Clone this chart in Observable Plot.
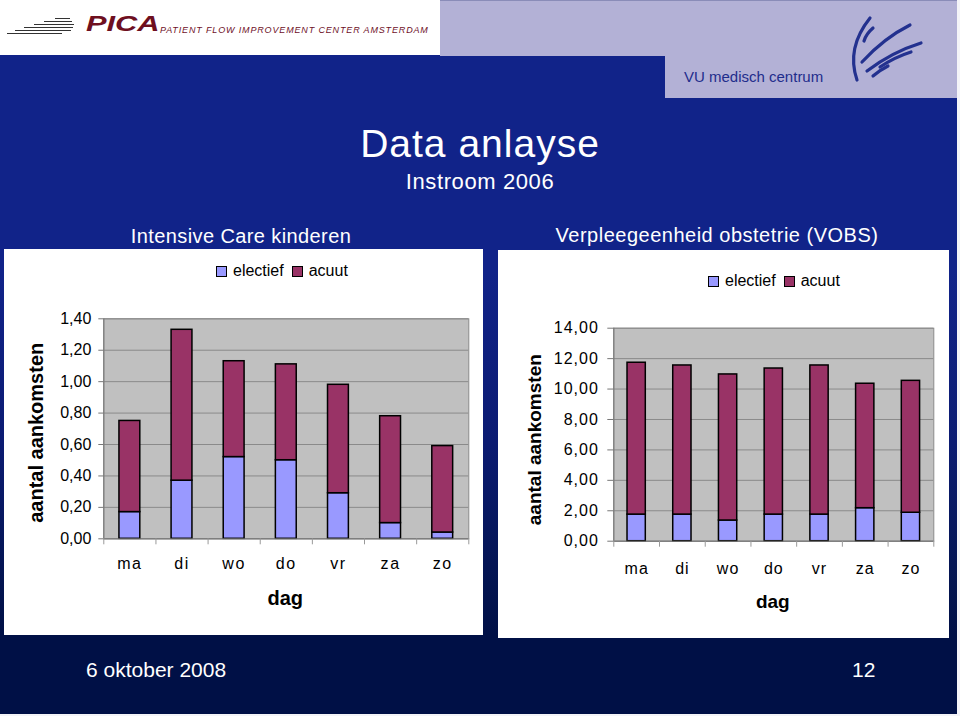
<!DOCTYPE html>
<html>
<head>
<meta charset="utf-8">
<script src="https://cdn.jsdelivr.net/npm/d3@7"></script>
<script src="https://cdn.jsdelivr.net/npm/@observablehq/plot@0.6"></script>
<style>
  html, body { margin: 0; padding: 0; background: #f4f4f8; }
  #slide { position: relative; width: 957px; height: 714px; overflow: hidden;
    font-family: "Liberation Sans", Arial, sans-serif;
    background: linear-gradient(to bottom, #112389 0%, #112389 38%, #0b1b72 62%, #031450 82%, #001046 89%, #001046 100%); }
  .abs { position: absolute; }
  .c { transform: translate(-50%, -50%); white-space: nowrap; line-height: 1; }
  .w { color: #fff; }
  .panel { background: #fff; }
  .leg { display: flex; align-items: center; font-size: 16px; color: #000; white-space: nowrap; }
  .sw { width: 9px; height: 9px; border: 1px solid #000; display: inline-block; margin-right: 6px; }
  #left g[aria-label="x-axis tick label"] text { letter-spacing: 1.6px; }
  #right g[aria-label="x-axis tick label"] text { letter-spacing: 1px; }
  #right g[aria-label="y-axis tick label"] text { letter-spacing: 1px; }
</style>
</head>
<body>
<div id="slide">
  <!-- header -->
  <div class="abs" style="left:0;top:0;width:440px;height:55px;background:#fff"></div>
  <div class="abs" style="left:440px;top:0;width:517px;height:55px;background:#b3b1d6;border-top:1px solid #8a8cb8"></div>
  <div class="abs" style="left:665px;top:55px;width:292px;height:43px;background:#b3b1d6"></div>
  <svg class="abs" style="left:0;top:0" width="957" height="100">
    <g stroke="#333" stroke-width="1">
      <line x1="55" y1="18.5" x2="70" y2="18.5"/>
      <line x1="44" y1="21.5" x2="72" y2="21.5"/>
      <line x1="34" y1="24.5" x2="74" y2="24.5"/>
      <line x1="24" y1="27.5" x2="73" y2="27.5"/>
      <line x1="15" y1="30.5" x2="71" y2="30.5"/>
      <line x1="7" y1="33.5" x2="62" y2="33.5"/>
    </g>
    <g fill="none" stroke="#23318f" stroke-width="3.2" stroke-linecap="round">
      <path d="M870,18 Q846,48 857,80"/>
      <path d="M873,28 Q866,34 864,41"/>
      <path d="M862,62 Q884,38 910,25"/>
      <path d="M867,71 Q892,52 921,43"/>
      <path d="M880,67 Q895,57 911,52"/>
      <path d="M873,76 Q880,70 888,66"/>
    </g>
  </svg>
  <div class="abs" style="left:86px;top:13px;font-size:22px;font-weight:bold;font-style:italic;color:#6e0f1f;transform:scaleX(1.4);transform-origin:left top;line-height:1">PICA</div>
  <div class="abs" style="left:160px;top:26px;font-size:9px;font-style:italic;color:#6e0f1f;letter-spacing:0.85px;line-height:1;white-space:nowrap">PATIENT FLOW IMPROVEMENT CENTER AMSTERDAM</div>
  <div class="abs" style="left:684px;top:69px;font-size:15px;color:#1f2d8c;line-height:1;white-space:nowrap">VU medisch centrum</div>

  <!-- titles -->
  <div class="abs c w" style="left:480px;top:143px;font-size:39px;letter-spacing:1px">Data anlayse</div>
  <div class="abs c w" style="left:480px;top:182px;font-size:22px;letter-spacing:0.6px">Instroom 2006</div>
  <div class="abs c w" style="left:241px;top:236px;font-size:20px;letter-spacing:0.4px">Intensive Care kinderen</div>
  <div class="abs c w" style="left:717px;top:235px;font-size:20px;letter-spacing:0.5px">Verpleegeenheid obstetrie (VOBS)</div>

  <!-- panels -->
  <div class="abs panel" style="left:4px;top:249px;width:479px;height:386px"></div>
  <div class="abs panel" style="left:498px;top:250px;width:451px;height:388px"></div>

  <div class="abs" id="left" style="left:4px;top:300px"></div>
  <div class="abs" id="right" style="left:499px;top:300px"></div>

  <div class="abs leg" id="legL" style="left:216px;top:262px"></div>
  <div class="abs leg" id="legR" style="left:708px;top:272px"></div>

  <!-- footer -->
  <div class="abs w" style="left:86px;top:659px;font-size:21px;line-height:1">6 oktober 2008</div>
  <div class="abs w" style="left:852px;top:659px;font-size:21px;line-height:1">12</div>
</div>

<script>
// ---- data ----
const days = ["ma", "di", "wo", "do", "vr", "za", "zo"];
const series = ["electief", "acuut"];
const seriesColors = ["#9999ff", "#993366"];

// Intensive Care kinderen
const icElectief = [0.17, 0.37, 0.52, 0.50, 0.29, 0.10, 0.04];
const icAcuut    = [0.58, 0.96, 0.61, 0.61, 0.69, 0.68, 0.55];
const icTicks    = [0, 0.2, 0.4, 0.6, 0.8, 1.0, 1.2, 1.4];

// Verpleegeenheid obstetrie (VOBS)
const vobsElectief = [1.75, 1.75, 1.36, 1.75, 1.75, 2.17, 1.87];
const vobsAcuut    = [9.98, 9.80, 9.60, 9.60, 9.80, 8.18, 8.67];
const vobsTicks    = [0, 2, 4, 6, 8, 10, 12, 14];

const yTitle = "aantal aankomsten";
const xTitle = "dag";

// ---- helpers ----
const fmt = v => v.toFixed(2).replace(".", ",");
const barFrac = 0.4;

function rowsFor(el, ac) {
  const rows = [];
  days.forEach((d, i) => {
    const x1 = i + (1 - barFrac) / 2, x2 = i + (1 + barFrac) / 2;
    rows.push({day: d, series: series[0], x1, x2, y1: 0, y2: el[i]});
    rows.push({day: d, series: series[1], x1, x2, y1: el[i], y2: el[i] + ac[i]});
  });
  return rows;
}

function chart(cfg) {
  const bounds = d3.range(days.length + 1);
  const centers = days.map((d, i) => i + 0.5);
  return Plot.plot({
    width: cfg.width, height: cfg.height,
    marginLeft: cfg.ml, marginRight: cfg.mr, marginTop: cfg.mt, marginBottom: cfg.mb,
    style: {fontFamily: '"Liberation Sans", Arial, sans-serif', fontSize: "16px", color: "#000", background: "transparent", overflow: "visible"},
    x: {type: "linear", domain: [0, days.length], axis: null},
    y: {domain: [cfg.ticks[0], cfg.ticks[cfg.ticks.length - 1]], axis: null},
    color: {domain: series, range: seriesColors},
    marks: [
      Plot.frame({fill: "#c0c0c0", stroke: "#8a8a8a"}),
      Plot.gridY(cfg.ticks, {stroke: "#8a8a8a", strokeOpacity: 1}),
      Plot.rectY(rowsFor(cfg.el, cfg.ac), {x1: "x1", x2: "x2", y1: "y1", y2: "y2", fill: "series", stroke: "#000", strokeWidth: 1.5}),
      Plot.ruleY([cfg.ticks[0]], {stroke: "#777"}),
      Plot.ruleX([0], {stroke: "#777"}),
      Plot.axisY(cfg.ticks, {tickFormat: fmt, tickSize: cfg.tickY, tickPadding: cfg.padY, stroke: "#777", fill: "#000", fontSize: 16}),
      Plot.axisX(bounds, {tickFormat: () => "", tickSize: 6, stroke: "#999"}),
      Plot.axisX(centers, {tickFormat: v => days[Math.round(v - 0.5)], tickSize: 0, tickPadding: cfg.padX, fill: "#000", fontSize: 16}),
      Plot.text([yTitle], {frameAnchor: "left", textAnchor: "middle", lineAnchor: "middle", rotate: -90, dx: cfg.ytDx, dy: cfg.ytDy, fontWeight: "bold", fontSize: cfg.ytSize, fill: "#000"}),
      Plot.text([xTitle], {frameAnchor: "bottom", textAnchor: "middle", lineAnchor: "middle", dy: cfg.xtDy, fontWeight: "bold", fontSize: cfg.xtSize, fill: "#000", dx: cfg.xtDx})
    ]
  });
}

document.getElementById("left").append(chart({
  el: icElectief, ac: icAcuut, ticks: icTicks,
  width: 479, height: 320, ml: 99.3, mr: 14.7, mt: 18.3, mb: 81.7,
  tickY: 5, padY: 7.5, padX: 18.5,
  ytDx: -67, ytDy: 4, ytSize: 20, xtDy: 60, xtSize: 20, xtDx: -1
}));

document.getElementById("right").append(chart({
  el: vobsElectief, ac: vobsAcuut, ticks: vobsTicks,
  width: 450, height: 330, ml: 114.3, mr: 15.7, mt: 27.7, mb: 89.3,
  tickY: 6, padY: 9, padX: 21.5,
  ytDx: -79, ytDy: 5, ytSize: 19, xtDy: 61, xtSize: 19, xtDx: -1
}));

function legend(id) {
  const el = document.getElementById(id);
  series.forEach((s, i) => {
    const item = document.createElement("span");
    item.style.cssText = "display:inline-flex;align-items:center;margin-right:" + (i === 0 ? "8px" : "0");
    item.innerHTML = '<span class="sw" style="background:' + seriesColors[i] + '"></span>' + s;
    el.append(item);
  });
}
legend("legL");
legend("legR");
</script>
</body>
</html>
